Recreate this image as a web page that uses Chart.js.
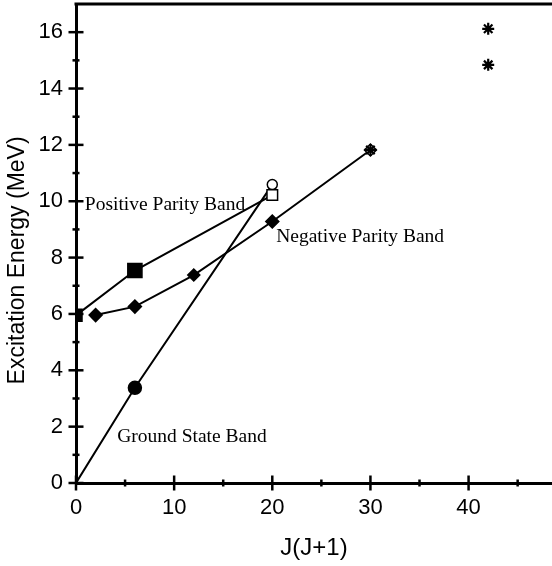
<!DOCTYPE html>
<html>
<head>
<meta charset="utf-8">
<script src="https://cdn.jsdelivr.net/npm/chart.js@4.4.2/dist/chart.umd.min.js"></script>
<style>
  html, body { margin: 0; padding: 0; background: #fff; }
  #wrap { width: 552px; height: 566px; }
</style>
</head>
<body>
<div id="wrap"><canvas id="chart" width="552" height="566"></canvas></div>
<script>
// J(J+1) vs excitation energy (MeV)
const positiveJ = [0, 6, 20];
const positiveE = [5.95, 7.54, 10.22];

const groundJ = [0, 6, 20];
const groundE = [0, 3.38, 10.59];

const negativeJ = [2, 6, 12, 20, 30];
const negativeE = [5.96, 6.26, 7.38, 9.28, 11.82];

const starJ = [30, 42, 42];
const starE = [11.82, 16.12, 14.84];

const xTickLabels = [0, 10, 20, 30, 40];
const yTickLabels = [0, 2, 4, 6, 8, 10, 12, 14, 16];

const bandLabels = [
  { text: 'Positive Parity Band', x: 0.9, y: 9.87 },
  { text: 'Negative Parity Band', x: 20.4, y: 8.73 },
  { text: 'Ground State Band', x: 4.2, y: 1.62 }
];

const yTitle = 'Excitation Energy (MeV)';

const points = (xs, ys) => xs.map((x, i) => ({ x: x, y: ys[i] }));

const axisFont = { family: 'Liberation Sans, Arial, sans-serif', size: 22 };

const noPadding = s => {
  s.paddingTop = 0;
  s.paddingBottom = 0;
  s.paddingLeft = 0;
  s.paddingRight = 0;
};

const frameAndTicks = {
  id: 'frameAndTicks',
  beforeDatasetsDraw(chart) {
    const { ctx, chartArea, scales: { x, y } } = chart;
    ctx.save();
    ctx.strokeStyle = '#000';
    ctx.lineCap = 'butt';

    // top frame line
    ctx.lineWidth = 3;
    ctx.beginPath();
    ctx.moveTo(chartArea.left - 1.5, chartArea.top);
    ctx.lineTo(chartArea.right, chartArea.top);
    ctx.stroke();

    // ticks crossing the axes, major every label, minor in between
    ctx.lineWidth = 2.5;
    for (let v = 0; v <= 16; v++) {
      const py = y.getPixelForValue(v);
      const len = v % 2 === 0 ? 7.5 : 3.5;
      ctx.beginPath();
      ctx.moveTo(chartArea.left - len, py);
      ctx.lineTo(chartArea.left + len, py);
      ctx.stroke();
    }
    for (let v = 0; v <= 45; v += 5) {
      const px = x.getPixelForValue(v);
      const len = v % 10 === 0 ? 7.5 : 3.5;
      ctx.beginPath();
      ctx.moveTo(px, chartArea.bottom - len);
      ctx.lineTo(px, chartArea.bottom + len);
      ctx.stroke();
    }

    // y axis title, sits a little below the middle of the axis
    ctx.fillStyle = '#000';
    ctx.font = '23px "Liberation Sans", Arial, sans-serif';
    ctx.textAlign = 'center';
    ctx.textBaseline = 'middle';
    ctx.translate(18, y.getPixelForValue(7.9));
    ctx.rotate(-Math.PI / 2);
    ctx.fillText(yTitle, 0, 0);
    ctx.restore();
  },
  afterDatasetsDraw(chart) {
    const { ctx, scales: { x, y } } = chart;
    ctx.save();
    ctx.fillStyle = '#000';
    ctx.font = '19.5px "Liberation Serif", "Times New Roman", serif';
    ctx.textAlign = 'left';
    ctx.textBaseline = 'middle';
    bandLabels.forEach(l => {
      ctx.fillText(l.text, x.getPixelForValue(l.x), y.getPixelForValue(l.y));
    });
    ctx.restore();
  }
};

new Chart(document.getElementById('chart'), {
  type: 'line',
  data: {
    datasets: [
      {
        label: 'Stars',
        data: points(starJ, starE),
        showLine: false,
        pointStyle: 'star',
        pointRadius: 6,
        pointBorderWidth: 2.2,
        borderColor: '#000',
        backgroundColor: '#000'
      },
      {
        label: 'Positive Parity Band',
        data: points(positiveJ, positiveE),
        borderColor: '#000',
        borderWidth: 2,
        pointStyle: 'rect',
        pointRadius: [8.5, 10, 7.5],
        pointBorderWidth: 1.5,
        pointBorderColor: '#000',
        pointBackgroundColor: ['#000', '#000', '#fff']
      },
      {
        label: 'Negative Parity Band',
        data: points(negativeJ, negativeE),
        borderColor: '#000',
        borderWidth: 2,
        pointStyle: 'rectRot',
        pointRadius: [6.5, 6.5, 6, 6.5, 6],
        pointBorderWidth: 1.5,
        pointBorderColor: '#000',
        pointBackgroundColor: ['#000', '#000', '#000', '#000', '#fff']
      },
      {
        label: 'Ground State Band',
        data: points(groundJ, groundE),
        borderColor: '#000',
        borderWidth: 2,
        pointStyle: 'circle',
        pointRadius: [0, 6.5, 5],
        pointBorderWidth: 1.5,
        pointBorderColor: '#000',
        pointBackgroundColor: ['#000', '#000', '#fff']
      }
    ]
  },
  options: {
    responsive: false,
    animation: false,
    devicePixelRatio: 1,
    layout: { autoPadding: false, padding: { top: 4, right: 0, left: 0, bottom: 0 } },
    plugins: {
      legend: { display: false },
      tooltip: { enabled: false }
    },
    elements: {
      line: { tension: 0 }
    },
    scales: {
      x: {
        type: 'linear',
        min: 0,
        max: 48.5,
        afterFit: s => { s.height = 83; noPadding(s); },
        afterBuildTicks: s => { s.ticks = xTickLabels.map(v => ({ value: v })); },
        grid: { display: false, drawTicks: false },
        border: { display: true, color: '#000', width: 3 },
        ticks: { color: '#000', font: axisFont, padding: 12, includeBounds: false, maxRotation: 0 },
        title: {
          display: true,
          text: 'J(J+1)',
          color: '#000',
          font: { family: 'Liberation Sans, Arial, sans-serif', size: 24 },
          padding: { top: 0, bottom: 3 }
        }
      },
      y: {
        type: 'linear',
        min: 0,
        max: 17,
        afterFit: s => { s.width = 76; noPadding(s); },
        afterBuildTicks: s => { s.ticks = yTickLabels.map(v => ({ value: v })); },
        grid: { display: false, drawTicks: false },
        border: { display: true, color: '#000', width: 3 },
        ticks: { color: '#000', font: axisFont, padding: 13, includeBounds: false },
        title: { display: false }
      }
    }
  },
  plugins: [frameAndTicks]
});
</script>
</body>
</html>
